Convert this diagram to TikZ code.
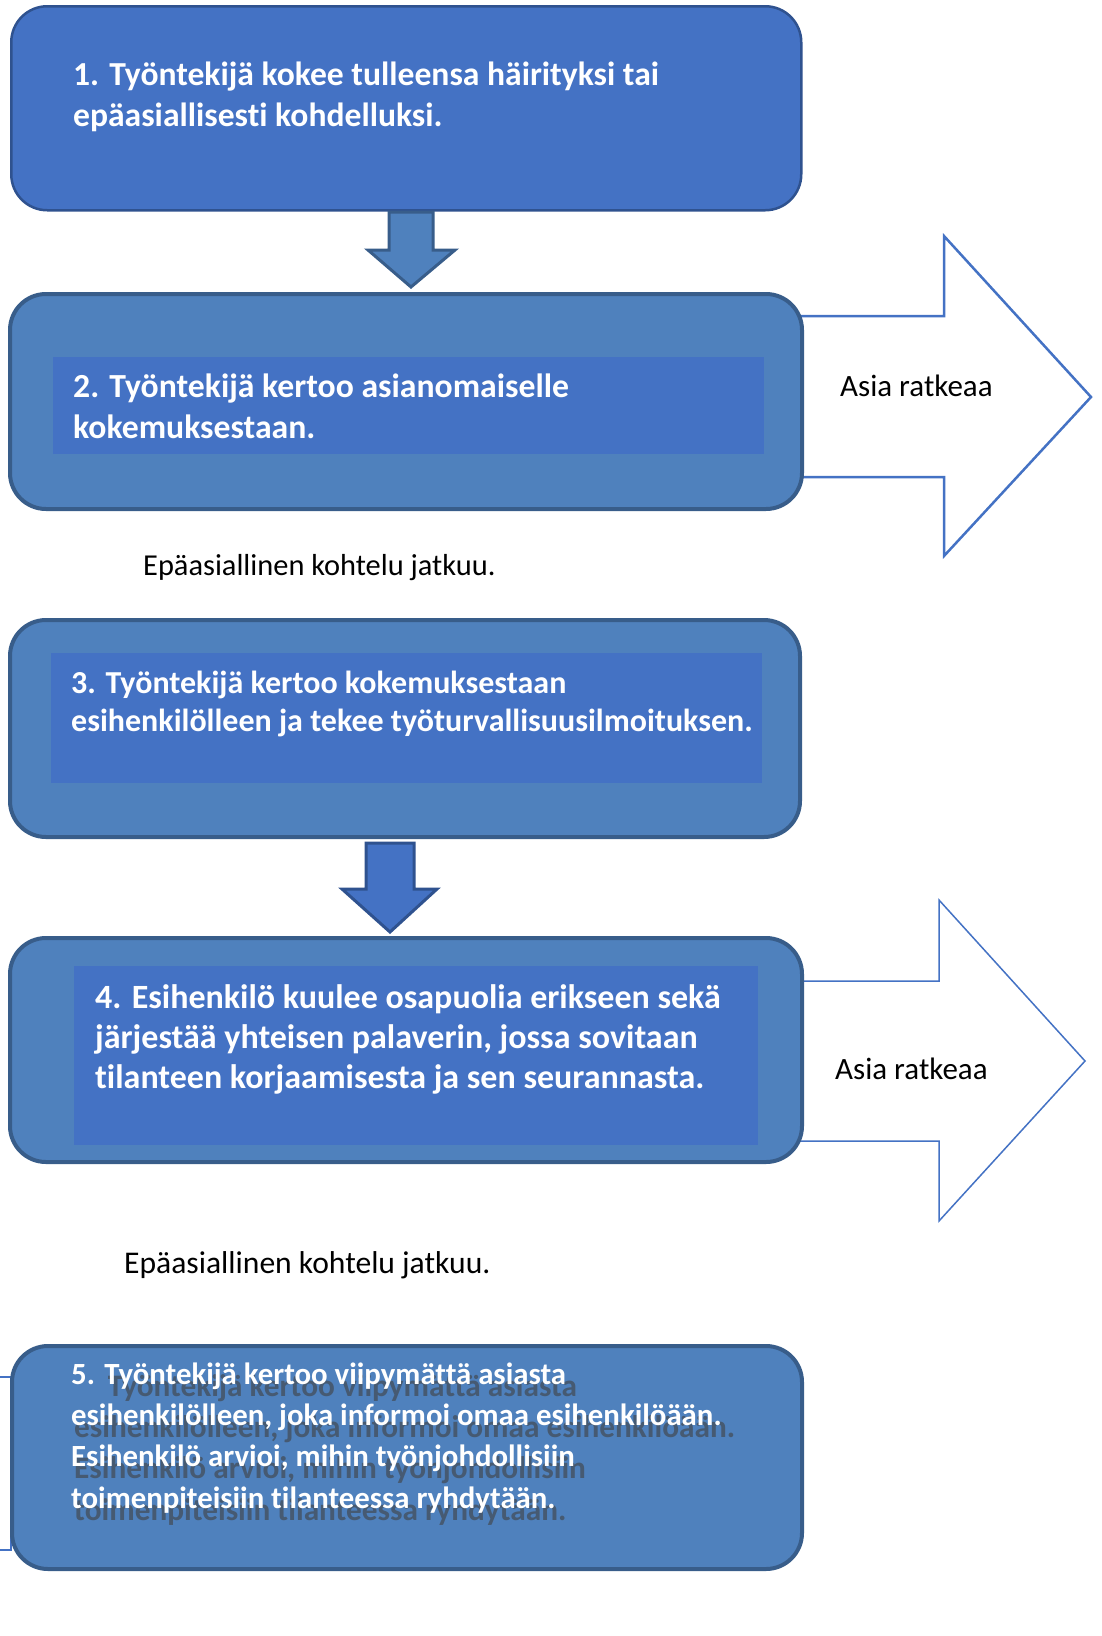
\documentclass[tikz,border=0pt]{standalone}
\usepackage{fontspec}
\setmainfont{Carlito}[Ligatures=NoCommon]
\usepackage{tikz}
\definecolor{boxblue}{HTML}{4472C4}
\definecolor{boxedge}{HTML}{2F528F}
\definecolor{stepblue}{HTML}{4F81BD}
\definecolor{stepedge}{HTML}{385D8A}
\tikzset{
  outerbox/.style={draw=stepedge, line width=4pt, fill=stepblue, rounded corners=36pt, anchor=north west, inner sep=0pt},
  innerbox/.style={fill=boxblue, anchor=north west, inner sep=0pt},
  steptext/.style={inner sep=0pt, anchor=base west, align=left, text=white, font=\bfseries\fontsize{33.6}{40.5}\selectfont},
  plaintext/.style={inner sep=0pt, anchor=base west, font=\fontsize{31}{36}\selectfont},
  outarrow/.style={draw=boxblue, fill=white, line width=2.5pt},
  downarrow/.style={line width=3pt, line join=miter}
}
\begin{document}
\begin{tikzpicture}[x=1pt, y=-1pt]
\useasboundingbox (0,0) rectangle (1101,1636);
% step 1 (base anchor = last line)
\node[outerbox, fill=boxblue, draw=boxedge, line width=2.5pt, minimum width=790pt, minimum height=204pt] (box1) at (10,5) {};
\node[steptext] (t1) at (73,126) {1. Työntekijä kokee tulleensa häirityksi tai\\epäasiallisesti kohdelluksi.};
\draw[downarrow, fill=stepblue, draw=stepedge] (389,212) -- (433,212) -- (433,250) -- (455,250) -- (411,287) -- (368,250) -- (389,250) -- cycle;
% step 2
\draw[outarrow] (790,316) -- (944,316) -- (944,236) -- (1091,397) -- (944,556) -- (944,477) -- (790,477);
\node[outerbox, minimum width=792pt, minimum height=215pt] (box2) at (8,292) {};
\node[innerbox, minimum width=711pt, minimum height=97pt] (in2) at (53,357) {};
\node[steptext, font=\bfseries\fontsize{33.7}{41}\selectfont] (t2) at (73,438) {2. Työntekijä kertoo asianomaiselle\\kokemuksestaan.};
\node[plaintext] (ok1) at (840,396) {Asia ratkeaa};
\node[plaintext, font=\fontsize{30.4}{35}\selectfont] (cont1) at (143,575) {Epäasiallinen kohtelu jatkuu.};
% step 3
\node[outerbox, minimum width=790pt, minimum height=217pt] (box3) at (8,618) {};
\node[innerbox, minimum width=711pt, minimum height=130pt] (in3) at (51,653) {};
\node[steptext, font=\bfseries\fontsize{32}{37.5}\selectfont] (t3) at (71,731) {3. Työntekijä kertoo kokemuksestaan\\esihenkilölleen ja tekee työturvallisuusilmoituksen.};
\draw[downarrow, fill=boxblue, draw=boxedge] (366,843) -- (414,843) -- (414,889) -- (437,889) -- (390,932) -- (342,889) -- (366,889) -- cycle;
% step 4
\draw[outarrow, line width=1.5pt] (790,981) -- (939,981) -- (939,900) -- (1085,1061) -- (939,1221) -- (939,1141) -- (790,1141);
\node[outerbox, minimum width=792pt, minimum height=224pt] (box4) at (8,936) {};
\node[innerbox, minimum width=684pt, minimum height=179pt] (in4) at (74,966) {};
\node[steptext, font=\bfseries\fontsize{34}{40}\selectfont] (t4) at (95,1088) {4. Esihenkilö kuulee osapuolia erikseen sekä\\järjestää yhteisen palaverin, jossa sovitaan\\tilanteen korjaamisesta ja sen seurannasta.};
\node[plaintext] (ok2) at (835,1079) {Asia ratkeaa};
\node[plaintext, font=\fontsize{31.6}{36}\selectfont] (cont2) at (124,1273) {Epäasiallinen kohtelu jatkuu.};
% step 5
\draw[draw=boxblue, line width=2pt] (0,1377) -- (11,1377) -- (11,1550) -- (0,1550);
\node[outerbox, minimum width=790pt, minimum height=223pt] (box5) at (10,1344) {};
\node[steptext, font=\bfseries\fontsize{31.3}{41.3}\selectfont, text=black!75, text opacity=0.6] (s5) at (74,1520) {\phantom{5. }Työntekijä kertoo viipymättä asiasta\\esihenkilölleen, joka informoi omaa esihenkilöään.\\Esihenkilö arvioi, mihin työnjohdollisiin\\toimenpiteisiin tilanteessa ryhdytään.};
\node[steptext, font=\bfseries\fontsize{30.8}{41.3}\selectfont] (t5) at (71,1508) {5. Työntekijä kertoo viipymättä asiasta\\esihenkilölleen, joka informoi omaa esihenkilöään.\\Esihenkilö arvioi, mihin työnjohdollisiin\\toimenpiteisiin tilanteessa ryhdytään.};
\end{tikzpicture}
\end{document}
